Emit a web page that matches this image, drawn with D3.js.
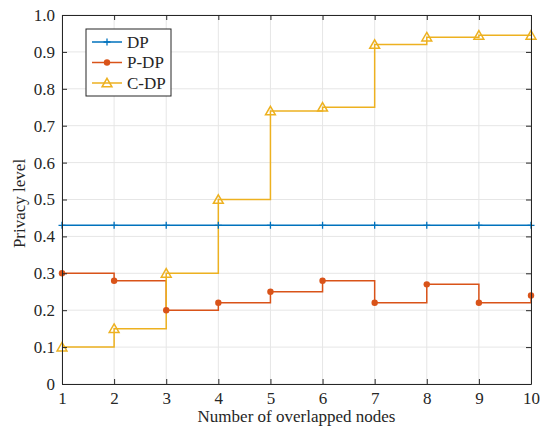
<!DOCTYPE html>
<html>
<head>
<meta charset="utf-8">
<script src="https://cdn.jsdelivr.net/npm/d3@7"></script>
<style>
  body { margin: 0; background: #fff; }
  text { font-family: "Liberation Serif", "Times New Roman", serif; fill: #262626; }
</style>
</head>
<body>
<div id="chart"></div>
<script>
// data
const nodes = [1, 2, 3, 4, 5, 6, 7, 8, 9, 10];
const dp = [0.43, 0.43, 0.43, 0.43, 0.43, 0.43, 0.43, 0.43, 0.43, 0.43];
const pdp = [0.30, 0.28, 0.20, 0.22, 0.25, 0.28, 0.22, 0.27, 0.22, 0.24];
const cdp = [0.10, 0.15, 0.30, 0.50, 0.74, 0.75, 0.92, 0.94, 0.945, 0.945];
const yTicks = [0, 0.1, 0.2, 0.3, 0.4, 0.5, 0.6, 0.7, 0.8, 0.9, 1.0];
const seriesNames = ["DP", "P-DP", "C-DP"];

const margin = {top: 15, right: 11, bottom: 42, left: 62},
  width = 542 - margin.left - margin.right,
  height = 426 - margin.top - margin.bottom;
const fontSize = "17px";

const colors = ["#0072BD", "#D95319", "#EDB120"];
const series = [dp, pdp, cdp].map((vals, i) => ({
  name: seriesNames[i],
  color: colors[i],
  points: nodes.map((n, j) => ({x: n, y: vals[j]}))
}));

const svg = d3.select("#chart")
  .append("svg")
    .attr("width", 542)
    .attr("height", 426)
  .append("g")
    .attr("transform", `translate(${margin.left}, ${margin.top})`);

const x = d3.scaleLinear().domain([1, 10]).range([0, width]);
const y = d3.scaleLinear().domain([0, 1]).range([height, 0]);

// grid
svg.append("g")
  .selectAll("line.gx")
  .data(nodes)
  .enter().append("line")
    .attr("x1", d => x(d)).attr("x2", d => x(d))
    .attr("y1", 0).attr("y2", height)
    .attr("stroke", "#e6e6e6").attr("stroke-width", 1);
svg.append("g")
  .selectAll("line.gy")
  .data(yTicks)
  .enter().append("line")
    .attr("x1", 0).attr("x2", width)
    .attr("y1", d => y(d)).attr("y2", d => y(d))
    .attr("stroke", "#e6e6e6").attr("stroke-width", 1);

// series lines (stairs)
const line = d3.line()
  .x(d => x(d.x))
  .y(d => y(d.y))
  .curve(d3.curveStepAfter);

series.forEach(s => {
  svg.append("path")
    .datum(s.points)
    .attr("fill", "none")
    .attr("stroke", s.color)
    .attr("stroke-width", 1.5)
    .attr("d", line);
});

function drawMarker(g, i, cx, cy, color) {
  if (i === 0) {
    g.append("path")
      .attr("d", `M${cx - 3.5},${cy}H${cx + 3.5}M${cx},${cy - 3.5}V${cy + 3.5}`)
      .attr("stroke", color).attr("stroke-width", 1.3);
  } else if (i === 1) {
    g.append("circle")
      .attr("cx", cx).attr("cy", cy).attr("r", 3.2)
      .attr("fill", color);
  } else {
    const s = d3.symbol().type(d3.symbolTriangle).size(42);
    g.append("path")
      .attr("d", s())
      .attr("transform", `translate(${cx},${cy + 1})`)
      .attr("fill", "none")
      .attr("stroke", color).attr("stroke-width", 1.5);
  }
}

series.forEach((s, i) => {
  const g = svg.append("g");
  s.points.forEach(p => drawMarker(g, i, x(p.x), y(p.y), s.color));
});

// axes (box with inward ticks)
const axisColor = "#262626";
const axBottom = svg.append("g")
  .attr("transform", `translate(0, ${height})`)
  .call(d3.axisBottom(x).tickValues(nodes).tickSizeInner(-5).tickSizeOuter(0).tickPadding(8).tickFormat(d3.format("d")));
const axLeft = svg.append("g")
  .call(d3.axisLeft(y).tickValues(yTicks).tickSizeInner(-5).tickSizeOuter(0).tickPadding(7)
    .tickFormat(d => d === 0 ? "0" : d3.format(".1f")(d)));
const axTop = svg.append("g")
  .call(d3.axisTop(x).tickValues(nodes).tickSizeInner(-5).tickSizeOuter(0).tickFormat(""));
const axRight = svg.append("g")
  .attr("transform", `translate(${width}, 0)`)
  .call(d3.axisRight(y).tickValues(yTicks).tickSizeInner(-5).tickSizeOuter(0).tickFormat(""));

[axBottom, axLeft, axTop, axRight].forEach(a => {
  a.attr("font-family", null).attr("font-size", null);
  a.selectAll("path, line").attr("stroke", axisColor);
  a.selectAll("text")
    .style("font-family", "'Liberation Serif', serif")
    .style("font-size", fontSize)
    .attr("fill", axisColor);
});

// axis labels
svg.append("text")
  .attr("x", width / 2)
  .attr("y", height + 38)
  .attr("text-anchor", "middle")
  .style("font-size", fontSize)
  .text("Number of overlapped nodes");

svg.append("text")
  .attr("transform", `translate(${-37}, ${height / 2 + 4}) rotate(-90)`)
  .attr("text-anchor", "middle")
  .style("font-size", fontSize)
  .text("Privacy level");

// legend
const legend = svg.append("g")
  .attr("transform", `translate(${86 - margin.left}, ${29 - margin.top})`);
legend.append("rect")
  .attr("width", 85).attr("height", 67)
  .attr("fill", "#fff")
  .attr("stroke", axisColor).attr("stroke-width", 1);
series.forEach((s, i) => {
  const ly = 13 + i * 20.5;
  legend.append("line")
    .attr("x1", 6).attr("x2", 36)
    .attr("y1", ly).attr("y2", ly)
    .attr("stroke", s.color).attr("stroke-width", 1.5);
  drawMarker(legend, i, 21, ly, s.color);
  legend.append("text")
    .attr("x", 41).attr("y", ly)
    .attr("dy", "0.35em")
    .style("font-size", fontSize)
    .text(s.name);
});
</script>
</body>
</html>
